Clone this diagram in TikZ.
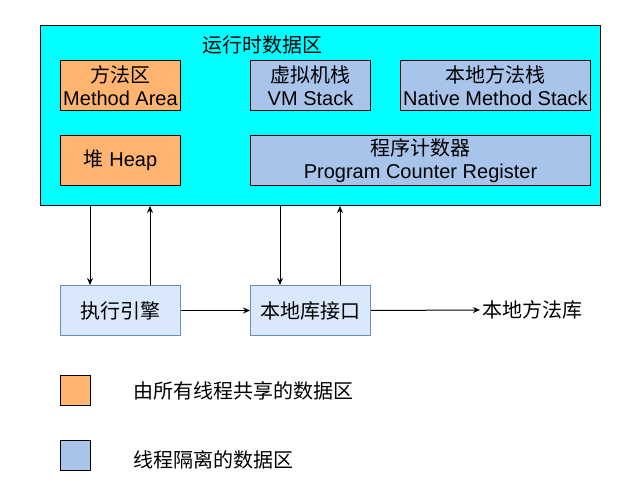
\documentclass[tikz,border=0pt]{standalone}
\usepackage{fontspec}
\setmainfont{Liberation Sans}
\newfontfamily\cjk{Noto Sans CJK SC}
\usetikzlibrary{arrows.meta}
\definecolor{cyanbg}{HTML}{00FFFF}
\definecolor{shared}{HTML}{FFB570}
\definecolor{priv}{HTML}{A9C4EB}
\definecolor{engfill}{HTML}{DAE8FC}
\definecolor{engdraw}{HTML}{6C8EBF}
\begin{document}
\begin{tikzpicture}[x=1pt,y=-1pt,
  txt/.style={font=\fontsize{20}{23}\selectfont, inner sep=0pt, align=center},
  box/.style={txt, draw=black, line width=1pt, anchor=north west, minimum height=50pt},
  sharedbox/.style={box, fill=shared, minimum width=120pt},
  privbox/.style={box, fill=priv},
  engbox/.style={box, fill=engfill, draw=engdraw, minimum width=120pt},
  legbox/.style={draw=black, line width=1pt, anchor=north west, minimum width=30pt, minimum height=30pt, inner sep=0pt},
  arr/.style={line width=1pt, -{Stealth[length=7pt,width=6pt]}}
]
\useasboundingbox (0,0) rectangle (643,495);
\node[draw=black, line width=1pt, fill=cyanbg, anchor=north west, minimum width=560pt, minimum height=180pt, inner sep=0pt] (outer) at (40,25) {};
\node[txt] (title) at (262,45) {\cjk 运行时数据区};
\node[sharedbox] (method) at (60,60) {{\cjk 方法区}\\Method Area};
\node[sharedbox] (heap) at (60,135) {{\cjk 堆} Heap};
\node[privbox, minimum width=120pt] (vm) at (250,60) {{\cjk 虚拟机栈}\\VM Stack};
\node[privbox, minimum width=190pt] (native) at (400,60) {{\cjk 本地方法栈}\\Native Method Stack};
\node[privbox, minimum width=340pt] (pc) at (250,135) {{\cjk 程序计数器}\\Program Counter Register};
\node[engbox] (exec) at (60,285) {\cjk 执行引擎};
\node[engbox] (nif) at (250,285) {\cjk 本地库接口};
\node[txt, anchor=west, inner sep=2pt] (lib) at (480,310) {\cjk 本地方法库};
\coordinate (a1) at (90,250);
\coordinate (a2) at (150,250);
\coordinate (a3) at (280,250);
\coordinate (a4) at (340,250);
\draw[arr] (outer.south -| a1) -- (exec.north -| a1);
\draw[arr] (exec.north -| a2) -- (outer.south -| a2);
\draw[arr] (outer.south -| a3) -- (nif.north -| a3);
\draw[arr] (nif.north -| a4) -- (outer.south -| a4);
\draw[arr] (exec.east) -- (nif.west);
\draw[arr] (nif.east) -- (lib.west);
\node[legbox, fill=shared] (leg1) at (60,375) {};
\node[legbox, fill=priv] (leg2) at (60,440) {};
\node[txt, anchor=west] (legt1) at (133,391) {\cjk 由所有线程共享的数据区};
\node[txt, anchor=west] (legt2) at (133,460) {\cjk 线程隔离的数据区};
\end{tikzpicture}
\end{document}
